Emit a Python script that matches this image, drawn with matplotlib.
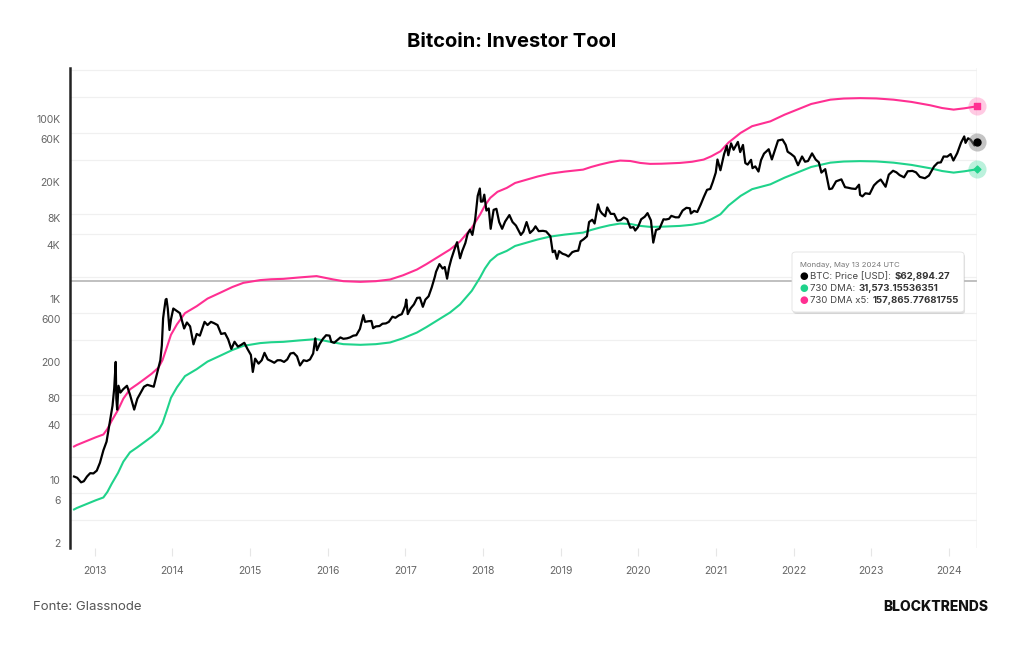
import numpy as np
import pandas as pd
import matplotlib
matplotlib.use('Agg')
import matplotlib.pyplot as plt
import matplotlib.dates as mdates
from matplotlib.patches import FancyBboxPatch
from matplotlib.transforms import ScaledTranslation

plt.rcParams['font.family'] = ['Inter', 'DejaVu Sans']

# BTC price (USD)
price_dates = [
    '2012-09-25', '2012-10-10', '2012-10-28', '2012-11-10', '2012-11-25', '2012-12-10', '2012-12-25',
    '2013-01-10', '2013-01-25', '2013-02-10', '2013-02-25', '2013-03-10', '2013-03-25', '2013-04-02',
    '2013-04-09', '2013-04-12', '2013-04-16', '2013-04-22', '2013-05-01', '2013-05-15', '2013-06-01',
    '2013-06-15', '2013-07-05', '2013-07-20', '2013-08-05', '2013-08-20', '2013-09-05', '2013-09-20',
    '2013-10-05', '2013-10-20', '2013-11-05', '2013-11-12', '2013-11-18', '2013-11-22', '2013-11-30',
    '2013-12-04', '2013-12-10', '2013-12-18', '2013-12-25',
    '2014-01-05', '2014-01-20', '2014-02-05', '2014-02-25', '2014-03-10', '2014-03-25', '2014-04-10',
    '2014-04-25', '2014-05-10', '2014-06-01', '2014-06-15', '2014-07-01', '2014-07-15', '2014-08-01',
    '2014-08-18', '2014-09-05', '2014-09-20', '2014-10-05', '2014-10-20', '2014-11-05', '2014-11-20',
    '2014-12-05', '2014-12-20',
    '2015-01-05', '2015-01-14', '2015-01-25', '2015-02-10', '2015-02-25', '2015-03-10', '2015-03-25',
    '2015-04-10', '2015-04-25', '2015-05-10', '2015-05-25', '2015-06-10', '2015-06-25', '2015-07-10',
    '2015-07-25', '2015-08-10', '2015-08-24', '2015-09-10', '2015-09-25', '2015-10-10', '2015-10-25',
    '2015-11-04', '2015-11-12', '2015-11-25', '2015-12-10', '2015-12-25',
    '2016-01-10', '2016-01-18', '2016-02-01', '2016-02-15', '2016-03-01', '2016-03-15', '2016-04-01',
    '2016-04-15', '2016-05-01', '2016-05-15', '2016-06-01', '2016-06-17', '2016-06-25', '2016-07-10',
    '2016-07-25', '2016-08-02', '2016-08-15', '2016-09-01', '2016-09-15', '2016-10-01', '2016-10-15',
    '2016-11-01', '2016-11-15', '2016-12-01', '2016-12-15', '2016-12-31',
    '2017-01-05', '2017-01-12', '2017-01-25', '2017-02-10', '2017-02-25', '2017-03-10', '2017-03-24',
    '2017-04-05', '2017-04-20', '2017-05-05', '2017-05-20', '2017-05-25', '2017-06-10', '2017-06-25',
    '2017-07-05', '2017-07-16', '2017-07-25', '2017-08-05', '2017-08-20', '2017-09-01', '2017-09-15',
    '2017-09-25', '2017-10-10', '2017-10-20', '2017-11-01', '2017-11-12', '2017-11-25', '2017-12-07',
    '2017-12-17', '2017-12-22', '2017-12-31',
    '2018-01-07', '2018-01-17', '2018-01-28', '2018-02-06', '2018-02-20', '2018-03-05', '2018-03-18',
    '2018-04-01', '2018-04-15', '2018-05-05', '2018-05-20', '2018-06-05', '2018-06-28', '2018-07-10',
    '2018-07-25', '2018-08-10', '2018-08-25', '2018-09-05', '2018-09-20', '2018-10-10', '2018-10-25',
    '2018-11-14', '2018-11-25', '2018-12-05', '2018-12-15', '2018-12-25',
    '2019-01-10', '2019-01-25', '2019-02-07', '2019-02-25', '2019-03-10', '2019-03-25', '2019-04-05',
    '2019-04-20', '2019-05-05', '2019-05-15', '2019-05-30', '2019-06-10', '2019-06-26', '2019-07-05',
    '2019-07-15', '2019-07-30', '2019-08-08', '2019-08-25', '2019-09-10', '2019-09-25', '2019-10-10',
    '2019-10-25', '2019-11-10', '2019-11-25', '2019-12-10', '2019-12-18', '2019-12-31',
    '2020-01-15', '2020-02-01', '2020-02-14', '2020-03-01', '2020-03-12', '2020-03-25', '2020-04-10',
    '2020-04-29', '2020-05-10', '2020-05-25', '2020-06-05', '2020-06-25', '2020-07-10', '2020-07-28',
    '2020-08-15', '2020-08-31', '2020-09-05', '2020-09-20', '2020-10-05', '2020-10-21', '2020-11-05',
    '2020-11-20', '2020-12-05', '2020-12-17', '2020-12-31',
    '2021-01-08', '2021-01-22', '2021-02-08', '2021-02-21', '2021-02-28', '2021-03-13', '2021-03-25',
    '2021-04-14', '2021-04-25', '2021-05-08', '2021-05-19', '2021-05-30', '2021-06-15', '2021-06-22',
    '2021-07-05', '2021-07-20', '2021-08-01', '2021-08-15', '2021-09-06', '2021-09-21', '2021-10-05',
    '2021-10-20', '2021-11-10', '2021-11-25', '2021-12-04', '2021-12-20',
    '2022-01-05', '2022-01-22', '2022-02-10', '2022-02-24', '2022-03-10', '2022-03-29', '2022-04-15',
    '2022-04-30', '2022-05-12', '2022-05-30', '2022-06-18', '2022-07-01', '2022-07-20', '2022-08-14',
    '2022-08-31', '2022-09-15', '2022-10-01', '2022-10-20', '2022-11-05', '2022-11-10', '2022-11-21',
    '2022-12-05', '2022-12-25',
    '2023-01-14', '2023-01-30', '2023-02-15', '2023-03-10', '2023-03-25', '2023-04-14', '2023-04-30',
    '2023-05-15', '2023-06-05', '2023-06-22', '2023-07-14', '2023-07-31', '2023-08-18', '2023-09-11',
    '2023-09-30', '2023-10-24', '2023-11-10', '2023-11-25', '2023-12-08', '2023-12-25',
    '2024-01-10', '2024-01-23', '2024-02-10', '2024-02-28', '2024-03-14', '2024-03-20', '2024-04-01',
    '2024-04-13', '2024-05-01', '2024-05-13',
]
price = [
    12.3, 11.9, 10.6, 10.9, 12.3, 13.4, 13.3,
    14.3, 17.5, 24, 30, 46, 75, 117,
    230, 90, 68, 125, 105, 115, 125,
    100, 68, 90, 105, 122, 128, 125,
    122, 170, 240, 350, 700, 830, 1130,
    1150, 900, 520, 680,
    900, 850, 800, 540, 630, 570, 360,
    470, 450, 640, 590, 640, 620, 590,
    470, 480, 410, 320, 385, 340, 355,
    375, 320,
    275, 178, 250, 220, 240, 290, 245,
    235, 225, 240, 240, 230, 245, 285,
    290, 265, 210, 240, 235, 245, 285,
    420, 310, 365, 415, 455,
    450, 385, 375, 400, 430, 415, 420,
    430, 450, 455, 535, 760, 640, 650,
    655, 545, 570, 575, 610, 615, 640,
    730, 710, 755, 780, 960,
    1130, 780, 900, 1000, 1180, 1190, 940,
    1130, 1230, 1550, 2050, 2300, 2800, 2500,
    2600, 1930, 2550, 3200, 4100, 4900, 3250,
    3900, 4800, 6000, 6750, 5900, 8700, 16000,
    19300, 13800, 13900,
    16500, 11000, 11600, 6900, 11200, 11500, 8200,
    6900, 8300, 9800, 8200, 7500, 5900, 6400,
    8200, 6200, 6700, 7350, 6500, 6550, 6450,
    5700, 3800, 3950, 3200, 3900,
    3650, 3550, 3400, 3800, 3900, 3950, 5000,
    5300, 5700, 8200, 8700, 7900, 12900, 11000,
    10200, 9500, 11900, 10100, 10100, 8500, 8600,
    9200, 8800, 7100, 7200, 6600, 7200,
    8800, 9400, 10300, 8550, 4850, 6700, 6900,
    8800, 8750, 8900, 9600, 9250, 9250, 11000,
    11800, 11650, 10200, 10900, 10600, 12800, 15600,
    18700, 19100, 22800, 29000,
    40500, 30800, 46400, 57500, 45200, 61200, 52000,
    63500, 49000, 58800, 37000, 35600, 40200, 32500,
    34000, 29800, 39900, 47100, 52700, 40600, 51500,
    65900, 67500, 58900, 49500, 46700,
    43500, 35000, 43800, 38300, 39000, 47400, 40500,
    37700, 29000, 31700, 19000, 19300, 23200, 24400,
    20000, 19700, 19300, 19100, 21300, 16400, 15800,
    17100, 16800,
    20900, 22800, 24300, 20200, 27500, 30400, 29200,
    27200, 25700, 30000, 30300, 29200, 26000, 25100,
    26900, 33900, 37300, 37700, 43800, 43600,
    46600, 39500, 47700, 62400, 73100, 62000, 69700,
    67200, 58200, 62894.27,
]

# 730 day moving average
dma_dates = [
    '2012-09-25', '2012-10-08', '2012-12-01', '2013-01-05', '2013-02-10', '2013-03-01', '2013-03-21',
    '2013-04-20', '2013-05-15', '2013-06-15', '2013-07-20', '2013-08-25', '2013-09-25', '2013-10-27',
    '2013-11-15', '2013-12-05', '2013-12-25', '2014-01-22', '2014-03-01', '2014-04-25', '2014-06-15',
    '2014-08-13', '2014-10-10', '2014-12-01', '2015-02-18', '2015-04-10', '2015-06-06', '2015-08-20',
    '2015-11-10', '2016-01-28', '2016-03-15', '2016-06-03', '2016-08-15', '2016-10-21', '2016-12-20',
    '2017-02-24', '2017-04-10', '2017-05-28', '2017-07-30', '2017-09-15', '2017-11-09', '2017-12-18',
    '2018-01-10', '2018-02-04', '2018-03-10', '2018-04-23', '2018-06-01', '2018-07-26', '2018-09-15',
    '2018-11-12', '2019-01-20', '2019-04-17', '2019-05-25', '2019-07-05', '2019-08-20', '2019-10-08',
    '2019-11-25', '2020-01-10', '2020-02-26', '2020-04-20', '2020-07-16', '2020-09-10', '2020-11-04',
    '2020-12-10', '2021-01-22', '2021-03-01', '2021-04-27', '2021-06-20', '2021-09-14', '2021-11-20',
    '2022-01-18', '2022-03-25', '2022-06-23', '2022-08-25', '2022-11-10', '2023-01-25', '2023-04-16',
    '2023-07-10', '2023-10-06', '2023-12-01', '2024-01-24', '2024-03-15', '2024-05-13',
]
dma730 = [
    5.3, 5.5, 6.2, 6.7, 7.2, 8.3, 10.2,
    13.5, 18, 22.8, 26, 30, 34, 39.7,
    48, 66, 92, 120, 160, 191, 232,
    269, 312, 347, 372, 380, 384, 398,
    412, 378, 362, 356, 362, 378, 420,
    487, 560, 658, 813, 1000, 1413, 1985,
    2500, 3040, 3550, 3925, 4450, 4850, 5250,
    5650, 5950, 6260, 6700, 7120, 7550, 7890,
    7800, 7430, 7250, 7280, 7430, 7650, 8090,
    8800, 10000, 12500, 16000, 19000, 21500, 25500,
    29000, 33500, 37400, 38500, 38900, 38600, 37400,
    35300, 32400, 30200, 29000, 30000, 31573.16,
]
dma730_x5 = [v * 5 for v in dma730]

y_labels = [2, 6, 10, 40, 80, 200, 600, 1000, 4000, 8000, 20000, 60000, 100000]
y_label_txt = ['2', '6', '10', '40', '80', '200', '600', '1K', '4K', '8K', '20K', '60K', '100K']
grid_vals = [m * 10 ** k for k in range(0, 6) for m in (1, 2, 4, 6, 8) if 2 <= m * 10 ** k <= 400000]

hover_price = 1825

PINK = '#ff2f92'
GREEN = '#1fd38b'

pdates = pd.to_datetime(price_dates)
ddates = pd.to_datetime(dma_dates)

fig = plt.figure(figsize=(10.24, 6.45), dpi=100)
ax = fig.add_axes([70 / 1024, 1 - 548 / 645, 907 / 1024, 480 / 645])

ax.set_yscale('log')
ax.set_ylim(1.98, 420000)
ax.set_xlim(pd.Timestamp('2012-09-06'), pd.Timestamp('2024-05-13'))

ax.set_yticks(grid_vals, minor=True)
ax.set_yticks(y_labels)
ax.set_yticklabels(y_label_txt)
ax.yaxis.set_minor_formatter(plt.NullFormatter())
ax.grid(which='minor', axis='y', color='#f0f0f0', lw=0.9)
ax.tick_params(axis='y', which='both', length=0, labelsize=7.5, labelcolor='#666666', pad=7)
for lab in ax.get_yticklabels():
    lab.set_transform(lab.get_transform() + ScaledTranslation(0, 0.05, fig.dpi_scale_trans))

ax.xaxis.set_major_locator(mdates.YearLocator())
ax.xaxis.set_major_formatter(mdates.DateFormatter('%Y'))
ax.tick_params(axis='x', length=6, color='#e6e6e6', labelsize=7.5, labelcolor='#666666', pad=7)

for s in ['top', 'right', 'bottom']:
    ax.spines[s].set_visible(False)
ax.spines['left'].set_color('#222222')
ax.spines['left'].set_linewidth(1.8)

# hover crosshair
ax.axhline(hover_price, color='#b5b5b5', lw=1.2, zorder=1)
ax.axvline(pdates[-1], color='#d5d5d5', lw=1.0, zorder=1)

ax.plot(ddates, dma730_x5, color=PINK, lw=1.5, zorder=3)
ax.plot(ddates, dma730, color=GREEN, lw=1.5, zorder=3)
ax.plot(pdates, price, color='black', lw=1.6, zorder=4)

# end markers
ax.scatter([ddates[-1]], [dma730_x5[-1]], s=170, color=PINK, alpha=0.25, lw=0, clip_on=False, zorder=5)
ax.scatter([ddates[-1]], [dma730_x5[-1]], s=22, marker='s', color=PINK, clip_on=False, zorder=6)
ax.scatter([pdates[-1]], [price[-1]], s=170, color='#8a8a8a', alpha=0.5, lw=0, clip_on=False, zorder=5)
ax.scatter([pdates[-1]], [price[-1]], s=25, color='black', clip_on=False, zorder=6)
ax.scatter([ddates[-1]], [dma730[-1]], s=170, color=GREEN, alpha=0.3, lw=0, clip_on=False, zorder=5)
ax.scatter([ddates[-1]], [dma730[-1]], s=12, marker='D', color=GREEN, clip_on=False, zorder=6)

# tooltip
bx, by, bw, bh = 792 / 1024, 1 - 312 / 645, 172 / 1024, 60 / 645
shadow = FancyBboxPatch((bx + 0.001, by - 0.003), bw, bh, boxstyle='round,pad=0,rounding_size=0.004',
                        transform=fig.transFigure, facecolor='#000000', alpha=0.12, lw=0, zorder=8)
box = FancyBboxPatch((bx, by), bw, bh, boxstyle='round,pad=0,rounding_size=0.004',
                     transform=fig.transFigure, facecolor='white', edgecolor='#e2e2e2', lw=0.6, zorder=9)
fig.patches.extend([shadow, box])
fig.text(800 / 1024, 1 - 265 / 645, 'Monday, May 13 2024 UTC', fontsize=5.6, color='#777777',
         va='center', zorder=10)
rows = [
    ('BTC: Price [USD]: ', '$62,894.27', 'black'),
    ('730 DMA: ', '31,573.15536351', GREEN),
    ('730 DMA x5: ', '157,865.77681755', PINK),
]
fig.canvas.draw()
renderer = fig.canvas.get_renderer()
for i, (name, val, c) in enumerate(rows):
    yy = 1 - (276.5 + i * 12) / 645
    fig.text(803.5 / 1024, yy, '\u25cf', color=c, fontsize=7.2, va='center', ha='center',
             family='DejaVu Sans', zorder=10)
    t = fig.text(810.5 / 1024, yy, name, fontsize=6.9, color='#444444', va='center', zorder=10)
    ext = t.get_window_extent(renderer)
    fig.text(ext.x1 / fig.bbox.width, yy, val, fontsize=6.9, fontweight='bold', color='#333333',
             va='center', zorder=10)

fig.text(512 / 1024, 1 - 42 / 645, 'Bitcoin: Investor Tool', fontsize=14.5, fontweight='bold',
         ha='center', va='center')
fig.text(33 / 1024, 1 - 607 / 645, 'Fonte: Glassnode', fontsize=9.5, color='#555555', va='center')
fig.text(988 / 1024, 1 - 607 / 645, 'BLOCKTRENDS', fontsize=10, fontweight='heavy', color='#111111',
         ha='right', va='center')

fig.savefig('out.png', dpi=100, facecolor='white')
